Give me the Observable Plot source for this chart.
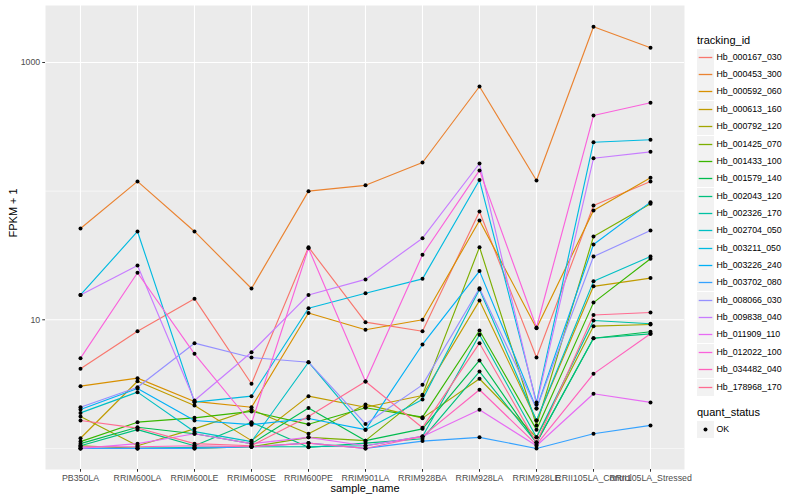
<!DOCTYPE html>
<html><head><meta charset="utf-8">
<script src="https://cdn.jsdelivr.net/npm/d3@7"></script>
<script src="https://cdn.jsdelivr.net/npm/@observablehq/plot@0.6"></script>
<style>
body{margin:0;background:#fff;font-family:"Liberation Sans",Arial,Helvetica,sans-serif;}
#wrap{position:relative;width:800px;height:500px;overflow:hidden;}
#legend{position:absolute;left:0;top:0;width:800px;height:500px;pointer-events:none;}
.lt{position:absolute;font-size:11px;color:#000;line-height:12px;white-space:nowrap;}
.lk{position:absolute;width:17px;height:17px;background:#F2F2F2;}
.ll{position:absolute;font-size:8.8px;color:#000;line-height:10px;white-space:nowrap;}
</style></head>
<body><div id="wrap"><div id="chart"></div><div id="legend"></div></div>
<script>
const samples = ["PB350LA","RRIM600LA","RRIM600LE","RRIM600SE","RRIM600PE","RRIM901LA","RRIM928BA","RRIM928LA","RRIM928LE","RRII105LA_Control","RRII105LA_Stressed"];
const trackingIds = ["Hb_000167_030","Hb_000453_300","Hb_000592_060","Hb_000613_160","Hb_000792_120","Hb_001425_070","Hb_001433_100","Hb_001579_140","Hb_002043_120","Hb_002326_170","Hb_002704_050","Hb_003211_050","Hb_003226_240","Hb_003702_080","Hb_008066_030","Hb_009838_040","Hb_011909_110","Hb_012022_100","Hb_034482_040","Hb_178968_170"];
const colors = ["#F8766D","#EA8331","#D89000","#C09B00","#A3A500","#7CAE00","#39B600","#00BB4E","#00BF7D","#00C1A3","#00BFC4","#00BAE0","#00B0F6","#35A2FF","#9590FF","#C77CFF","#E76BF3","#FA62DB","#FF62BC","#FF6C91"];
const quantStatus = ["OK"];

// FPKM + 1 per sample (same order as samples)
const hb_000167_030 = [4.16, 8.15, 14.6, 3.18, 36.7, 9.58, 8.15, 69.5, 5.09, 77.3, 119];
const hb_000453_300 = [51.2, 119, 48.6, 17.5, 100, 111, 167, 651, 121, 1895, 1301];
const hb_000592_060 = [3.05, 3.52, 2.32, 2.09, 11.3, 8.36, 10.0, 59.1, 8.60, 70.7, 127];
const hb_000613_160 = [1.20, 3.33, 2.16, 1.15, 2.55, 2.09, 2.58, 14.1, 1.65, 18.2, 21.1];
const hb_000792_120 = [1.77, 1.05, 1.42, 2.01, 1.30, 2.20, 1.72, 3.48, 1.22, 8.92, 9.19];
const hb_001425_070 = [1.05, 1.00, 1.00, 1.03, 1.22, 1.15, 2.61, 36.7, 1.51, 44.4, 79.7];
const hb_001433_100 = [1.13, 1.60, 1.73, 1.94, 1.54, 2.07, 1.75, 8.26, 1.40, 13.6, 29.8];
const hb_001579_140 = [1.09, 1.46, 1.30, 1.09, 2.06, 1.15, 1.42, 4.83, 1.11, 7.19, 8.07];
const hb_002043_120 = [1.05, 1.40, 1.05, 1.60, 1.02, 1.10, 1.19, 3.96, 1.11, 7.19, 7.78];
const hb_002326_170 = [1.00, 1.00, 1.02, 1.03, 1.03, 1.05, 1.24, 7.64, 1.22, 9.88, 9.31];
const hb_002704_050 = [1.89, 2.74, 1.35, 1.13, 4.68, 1.40, 2.40, 17.2, 1.65, 19.9, 31.0];
const hb_003211_050 = [15.6, 48.6, 2.29, 2.55, 12.3, 16.1, 20.8, 122, 2.28, 240, 251];
const hb_003226_240 = [2.01, 2.92, 1.65, 1.53, 1.71, 1.40, 6.43, 23.9, 2.04, 38.5, 82.1];
const hb_003702_080 = [1.00, 1.00, 1.00, 1.03, 1.10, 1.00, 1.14, 1.22, 1.00, 1.30, 1.51];
const hb_008066_030 = [2.09, 2.99, 6.58, 5.09, 4.68, 1.55, 3.12, 17.6, 2.04, 31.0, 49.4];
const hb_009838_040 = [15.6, 26.4, 2.36, 5.60, 15.6, 20.6, 43.1, 164, 2.20, 180, 202];
const hb_011909_110 = [1.00, 1.09, 1.30, 1.09, 1.22, 1.05, 1.24, 2.00, 1.05, 2.66, 2.28];
const hb_012022_100 = [5.03, 23.2, 5.44, 1.57, 36.0, 3.31, 32.0, 145, 8.71, 387, 486];
const hb_034482_040 = [1.03, 1.03, 1.05, 1.03, 1.10, 1.00, 1.24, 2.86, 1.07, 3.80, 7.78];
const hb_178968_170 = [1.65, 1.44, 1.09, 1.05, 1.77, 3.31, 1.45, 6.58, 1.11, 10.9, 11.4];

const seriesValues = [hb_000167_030, hb_000453_300, hb_000592_060, hb_000613_160, hb_000792_120, hb_001425_070, hb_001433_100, hb_001579_140, hb_002043_120, hb_002326_170, hb_002704_050, hb_003211_050, hb_003226_240, hb_003702_080, hb_008066_030, hb_009838_040, hb_011909_110, hb_012022_100, hb_034482_040, hb_178968_170];
const yTicks = [10, 1000];
const yMinor = [1, 100];

const data = trackingIds.flatMap((id, i) => seriesValues[i].map((v, j) => ({id, sample: samples[j], fpkm: v, status: quantStatus[0]})));

const font = '"Liberation Sans", Arial, Helvetica, sans-serif';
const chart = Plot.plot({
  width: 800, height: 500,
  marginLeft: 45, marginRight: 116, marginTop: 5, marginBottom: 31,
  style: {fontFamily: font, background: "white", overflow: "visible"},
  x: {type: "point", domain: samples, padding: 0.6},
  y: {type: "log", domain: [0.686, 2773]},
  color: {domain: trackingIds, range: colors},
  marks: [
    Plot.frame({fill: "#EBEBEB", stroke: "none"}),
    Plot.ruleY(yMinor, {stroke: "#FFFFFF", strokeWidth: 0.55}),
    Plot.ruleY(yTicks, {stroke: "#FFFFFF", strokeWidth: 1.1}),
    Plot.ruleX(samples, {stroke: "#FFFFFF", strokeWidth: 1.1}),
    Plot.line(data, {x: "sample", y: "fpkm", z: "id", stroke: "id", strokeWidth: 1.15}),
    Plot.dot(data, {x: "sample", y: "fpkm", r: 2, fill: "black", stroke: "none"}),
    Plot.axisX({tickSize: 2.75, tickPadding: 2.2, fontSize: 8.8, fill: "#4D4D4D", stroke: "#333333", label: null}),
    Plot.axisY({ticks: yTicks, tickFormat: d => String(d), tickSize: 2.75, tickPadding: 2.5, fontSize: 8.8, fill: "#4D4D4D", stroke: "#333333", label: null}),
    Plot.text(["sample_name"], {frameAnchor: "bottom", dy: 22.5, fontSize: 11, fill: "black"}),
    Plot.text(["FPKM + 1"], {frameAnchor: "left", dx: -32, rotate: -90, fontSize: 11, fill: "black"})
  ]
});
document.getElementById("chart").appendChild(chart);

// legend
const lg = document.getElementById("legend");
function add(cls, left, top, html) {
  const d = document.createElement("div");
  d.className = cls; d.style.left = left + "px"; d.style.top = top + "px";
  if (html !== undefined) d.innerHTML = html;
  lg.appendChild(d); return d;
}
add("lt", 697, 34, "tracking_id");
const step = 17.36, y0 = 56.7;
trackingIds.forEach((id, i) => {
  const cy = Math.round(y0 + i * step);
  const k = add("lk", 697, cy - 8);
  k.innerHTML = `<svg width="17" height="17" style="display:block"><line x1="1.7" x2="15.3" y1="8.5" y2="8.5" stroke="${colors[i]}" stroke-width="1.3"/></svg>`;
  add("ll", 716.5, cy - 5, id);
});
add("lt", 697, 406, "quant_status");
const ky = 429;
const k2 = add("lk", 697, ky - 8);
k2.innerHTML = `<svg width="17" height="17" style="display:block"><circle cx="8.5" cy="8.5" r="2" fill="black"/></svg>`;
add("ll", 716.5, ky - 5, quantStatus[0]);
</script></body></html>
